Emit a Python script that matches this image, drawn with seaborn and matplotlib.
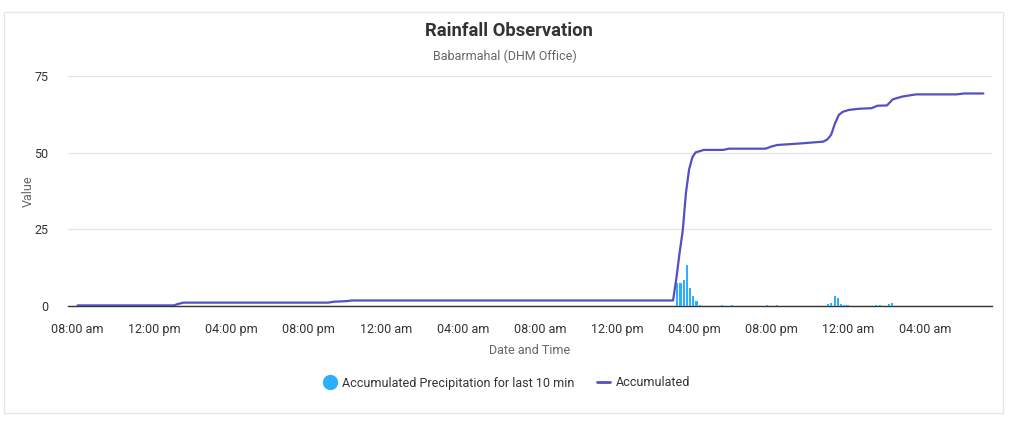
import numpy as np
import pandas as pd
import matplotlib
matplotlib.use("Agg")
import matplotlib.pyplot as plt
import seaborn as sns
from matplotlib.lines import Line2D
from matplotlib.patches import Rectangle

# Datos: horas desde las 08:00 am del primer dia
line_hours = [0.0, 5.0, 5.17, 5.5, 13.0, 13.3, 14.0, 14.2, 30.9, 31.07, 31.23, 31.4,
              31.57, 31.73, 31.9, 32.07, 32.5, 33.5, 33.8, 35.7, 36.0, 36.3, 37.5,
              38.7, 38.9, 39.1, 39.3, 39.5, 39.7, 40.0, 40.5, 41.2, 41.5, 42.0,
              42.3, 42.8, 43.5, 45.6, 46.0, 47.0]
line_values = [0.2, 0.2, 0.6, 1.1, 1.1, 1.4, 1.6, 1.8, 1.8, 9.0, 17.0, 24.5,
               37.0, 44.5, 48.5, 50.1, 50.9, 50.9, 51.3, 51.3, 52.0, 52.5, 53.0,
               53.6, 54.3, 55.8, 59.5, 62.3, 63.3, 63.9, 64.3, 64.5, 65.3, 65.4,
               67.4, 68.3, 69.0, 69.0, 69.3, 69.3]

# Precipitacion cada 10 min (minutos desde el inicio)
bar_minutes = [1867, 1877, 1887, 1897, 1907, 1917, 1927, 1937,
               2007, 2037, 2147, 2177,
               2337, 2347, 2357, 2367, 2377, 2387, 2397,
               2487, 2497, 2527, 2537]
bar_values = [7.5, 7.5, 8.5, 13.4, 6.0, 3.3, 1.6, 0.4,
              0.2, 0.2, 0.2, 0.2,
              0.6, 1.1, 3.3, 2.5, 0.5, 0.3, 0.3,
              0.3, 0.3, 0.5, 1.1]

tick_hours = list(range(0, 45, 4))
tick_labels = ["08:00 am", "12:00 pm", "04:00 pm", "08:00 pm", "12:00 am", "04:00 am",
               "08:00 am", "12:00 pm", "04:00 pm", "08:00 pm", "12:00 am", "04:00 am"]

line_df = pd.DataFrame({"hour": line_hours, "value": line_values})
bar_df = pd.DataFrame({"hour": np.array(bar_minutes) / 60.0, "value": bar_values})

sns.set_style("white")
plt.rcParams["font.family"] = ["Roboto", "DejaVu Sans"]

fig = plt.figure(figsize=(10.16, 4.28), dpi=100)
ax = fig.add_axes([68 / 1016, 1 - 306 / 428, (992 - 68) / 1016, 230 / 428])

# Barras y linea
sns.barplot(data=bar_df, x="hour", y="value", native_scale=True, width=0.65,
            color="#2caffe", saturation=1, errorbar=None, ax=ax, linewidth=0, zorder=3)
sns.lineplot(data=line_df, x="hour", y="value", color="#544fc5", linewidth=1.6,
             ax=ax, zorder=4)

ax.set_xlim(-0.5, 47.45)
ax.set_ylim(0, 75)
ax.set_yticks([0, 25, 50, 75])
ax.set_xticks(tick_hours)
ax.set_xticklabels(tick_labels)
ax.grid(axis="y", color="#e6e6e6", linewidth=1)
ax.grid(axis="x", visible=False)
for s in ["top", "right", "left"]:
    ax.spines[s].set_visible(False)
ax.spines["bottom"].set_color("#333333")
ax.spines["bottom"].set_linewidth(1)
ax.tick_params(axis="x", direction="out", length=7, width=1, color="#333333",
               labelsize=9, labelcolor="#333333", pad=5)
ax.tick_params(axis="y", length=0, labelsize=9, labelcolor="#333333", pad=14)

ax.set_xlabel("Date and Time", fontsize=9, color="#666666", labelpad=6)
ax.set_ylabel("Value", fontsize=9, color="#666666")
ax.yaxis.set_label_coords((35 - 68) / 924, 0.5)

# Titulos
fig.text(509 / 1016, 1 - 31 / 428, "Rainfall Observation", ha="center", va="center",
         fontsize=13.2, fontweight="bold", color="#333333")
fig.text(505 / 1016, 1 - 56 / 428, "Babarmahal (DHM Office)", ha="center", va="center",
         fontsize=9, color="#666666")

# Leyenda
handles = [Line2D([], [], marker="o", linestyle="none", color="#2caffe", markersize=10),
           Line2D([], [], color="#544fc5", linewidth=2)]
fig.legend(handles, ["Accumulated Precipitation for last 10 min", "Accumulated"],
           loc="center", bbox_to_anchor=(507 / 1016, 1 - 383 / 428), ncol=2,
           frameon=False, fontsize=9, handlelength=1.0, handletextpad=0.5,
           columnspacing=1.8, labelcolor="#333333")

# Marco
fig.patches.append(Rectangle((4 / 1016, 1 - 413 / 428), 999 / 1016, 401 / 428,
                             transform=fig.transFigure, fill=False,
                             edgecolor="#e6e6e6", linewidth=1))

fig.savefig("out.png", dpi=100)
